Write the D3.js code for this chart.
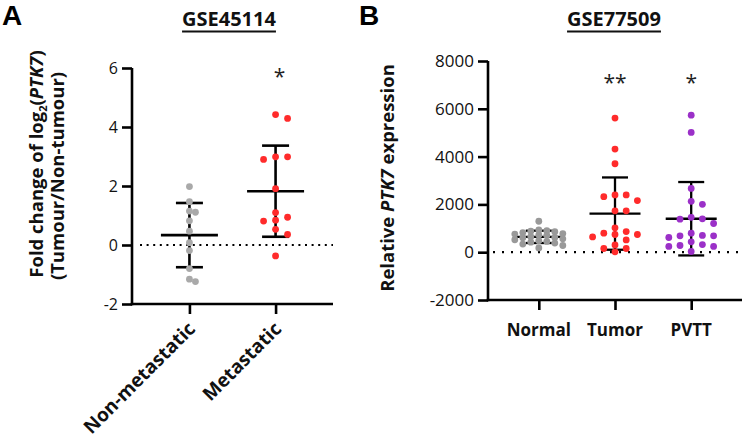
<!DOCTYPE html>
<html><head><meta charset="utf-8">
<script src="https://cdn.jsdelivr.net/npm/d3@7"></script>
<style>
body{margin:0;background:#fff;}
svg{display:block;font-family:"Open Sans",sans-serif;}
</style></head>
<body><svg id="c" width="747" height="442"></svg>
<script>
// ---- Panel A data (GSE45114) ----
const catsA = ["Non-metastatic", "Metastatic"];
const nonMetastatic = [1.98, 1.47, 1.15, 1.11, 0.82, 0.47, 0.08, -0.19, -0.80, -1.24, -1.16];
const metastatic = [4.29, 4.42, 2.90, 2.99, 2.99, 1.91, 0.94, 1.10, 0.81, 0.84, 0.53, 0.36, -0.37];
const ticksA = [-2, 0, 2, 4, 6];
const sigA = ["", "*"];

// ---- Panel B data (GSE77509) ----
const catsB = ["Normal", "Tumor", "PVTT"];
const normal = [1295, 930, 900, 880, 860, 820, 780, 760, 720, 700, 650, 620, 600, 560, 520, 480, 450, 420, 380, 340, 280, 180];
const tumor = [5610, 4315, 3700, 2325, 2395, 2395, 2160, 1730, 1730, 1020, 740, 740, 795, 865, 640, 515, 305, 155, 155, 15];
const pvtt = [5735, 5010, 2670, 2130, 2005, 1380, 1460, 1395, 1200, 700, 615, 685, 685, 795, 240, 320, 240, 280, 435, 30];
const ticksB = [-2000, 0, 2000, 4000, 6000, 8000];
const sigB = ["", "**", "*"];

const svg = d3.select("#c");

function swarm(vals, y, step, d, maxK) {
  const idx = vals.map((v, i) => i).sort((a, b) => vals[b] - vals[a]);
  const placed = [];
  const off = new Array(vals.length);
  const order = [0];
  for (let k = 1; k <= maxK; k++) order.push(k, -k);
  idx.forEach(i => {
    const py = y(vals[i]);
    let best = null, bestGap = -1;
    for (const k of order) {
      const gaps = placed.filter(p => p.k === k).map(p => Math.abs(p.y - py));
      const gap = gaps.length ? Math.min(...gaps) : Infinity;
      if (gap >= d) { best = k; break; }
      if (gap > bestGap) { bestGap = gap; best = k; }
    }
    placed.push({k: best, y: py}); off[i] = best * step;
  });
  return off;
}

function panel(opt) {
  const g = svg.append("g");
  const x = d3.scalePoint().domain(opt.cats).range(opt.xr).padding(2/3);
  const y = d3.scaleLinear().domain(opt.yd).range(opt.yr);

  const ya = g.append("g").attr("transform", `translate(${opt.xr[0]},0)`)
    .call(d3.axisLeft(y).tickValues(opt.ticks).tickSize(10).tickSizeOuter(0).tickPadding(4).tickFormat(d => String(d)));
  ya.selectAll("text").attr("font-size", opt.tickFont).attr("fill", "#111").attr("font-family", "Open Sans");
  const xa = g.append("g").attr("transform", `translate(0,${opt.yr[0]})`)
    .call(d3.axisBottom(x).tickSize(10).tickSizeOuter(0).tickFormat(""));
  g.selectAll(".domain, .tick line").attr("stroke", "#000").attr("stroke-width", 2.6);
  ya.select(".domain").attr("d", `M0,${opt.yr[1]}V${opt.yr[0] + 1.3}`);
  xa.select(".domain").attr("d", `M${opt.xr[0] - 1.3},0H${opt.xr[1]}`);

  g.append("line").attr("x1", opt.zeroX[0]).attr("x2", opt.zeroX[1])
    .attr("y1", y(0)).attr("y2", y(0)).attr("stroke", "#000").attr("stroke-width", 2.2)
    .attr("stroke-dasharray", opt.dash);

  opt.series.forEach((vals, si) => {
    const cx = x(opt.cats[si]);
    const m = d3.mean(vals), sd = d3.deviation(vals);
    const bar = g.append("g").attr("stroke", "#000").attr("stroke-width", opt.barW);
    bar.append("line").attr("x1", cx).attr("x2", cx).attr("y1", y(m + sd)).attr("y2", y(m - sd));
    bar.append("line").attr("x1", cx - opt.meanHalf).attr("x2", cx + opt.meanHalf).attr("y1", y(m)).attr("y2", y(m));
    [m + sd, m - sd].forEach(v => bar.append("line").attr("x1", cx - opt.capHalf).attr("x2", cx + opt.capHalf).attr("y1", y(v)).attr("y2", y(v)));
    const sw = opt.swarm[si];
    const off = swarm(vals, y, sw[0], sw[1], sw[2]);
    g.append("g").selectAll("circle").data(vals).join("circle")
      .attr("cx", (d, i) => cx + off[i]).attr("cy", d => y(d)).attr("r", 3.4)
      .attr("fill", opt.colors[si]);
    if (opt.sig[si]) g.append("text").attr("x", cx + opt.sigDx).attr("y", opt.sigY)
      .attr("text-anchor", "middle").attr("font-size", 21).attr("fill", "#222").text(opt.sig[si]);
  });
  return {g, x, y};
}

// Panel A
const A = panel({cats: catsA, xr: [132, 333], yd: [-2, 6], yr: [304, 68], ticks: ticksA, tickFont: 16,
  series: [nonMetastatic, metastatic], colors: ["#a9a9a9", "#ff2b2b"],
  swarm: [[6, 6.6, 2], [12, 6.6, 3]], barW: 2.6,
  meanHalf: 28.5, capHalf: 13.5, zeroX: [140, 333], dash: "2,4.6", sig: sigA, sigY: 84, sigDx: 4});
catsA.forEach(c => {
  A.g.append("text").attr("transform", `translate(${A.x(c) + 7},${330}) rotate(-45)`)
    .attr("text-anchor", "end").attr("font-size", 19).attr("font-weight", "bold").attr("fill", "#111").text(c);
});

// Panel B
const B = panel({cats: catsB, xr: [488, 742], yd: [-2000, 8000], yr: [300, 61], ticks: ticksB, tickFont: 17,
  series: [normal, tumor, pvtt], colors: ["#999999", "#ff2b2b", "#9b30c8"],
  swarm: [[8, 5, 3], [11.2, 6.6, 3], [11.2, 6.6, 3]], barW: 2.3,
  meanHalf: 25.5, capHalf: 13, zeroX: [493, 742], dash: "2,7", sig: sigB, sigY: 90, sigDx: 0});
catsB.forEach(c => {
  B.g.append("text").attr("x", B.x(c)).attr("y", 336).attr("text-anchor", "middle")
    .attr("font-size", 17).attr("font-weight", "bold").attr("fill", "#111").text(c);
});

// Titles
[["GSE45114", 229], ["GSE77509", 614]].forEach(([t, cx]) => {
  const tx = svg.append("text").attr("x", cx).attr("y", 26).attr("text-anchor", "middle")
    .attr("font-size", 20).attr("font-weight", "bold").attr("fill", "#111").text(t);
  const w = tx.node().getComputedTextLength();
  svg.append("line").attr("x1", cx - w / 2).attr("x2", cx + w / 2).attr("y1", 31.5).attr("y2", 31.5)
    .attr("stroke", "#111").attr("stroke-width", 2);
});
[["A", 2], ["B", 359]].forEach(([t, x]) => {
  svg.append("text").attr("x", x).attr("y", 25).attr("font-family", "Liberation Sans, Arial, sans-serif")
    .attr("font-size", 28).attr("font-weight", "bold").attr("fill", "#000").text(t);
});

// Y titles
const tA1 = svg.append("text").attr("transform", "translate(43,164) rotate(-90)").attr("text-anchor", "middle")
  .attr("font-size", 18.5).attr("font-weight", "bold").attr("fill", "#111");
tA1.append("tspan").text("Fold change of log");
tA1.append("tspan").attr("font-size", 11).attr("dy", 4).text("2");
tA1.append("tspan").attr("dy", -4).text("(");
tA1.append("tspan").attr("font-style", "italic").text("PTK7");
tA1.append("tspan").text(")");
svg.append("text").attr("transform", "translate(64,176) rotate(-90)").attr("text-anchor", "middle")
  .attr("font-size", 18.5).attr("font-weight", "bold").attr("fill", "#111").text("(Tumour/Non-tumour)");
const tB = svg.append("text").attr("transform", "translate(394,178) rotate(-90)").attr("text-anchor", "middle")
  .attr("font-size", 18.5).attr("font-weight", "bold").attr("fill", "#111");
tB.append("tspan").text("Relative ");
tB.append("tspan").attr("font-style", "italic").text("PTK7");
tB.append("tspan").text(" expression");
</script></body></html>
